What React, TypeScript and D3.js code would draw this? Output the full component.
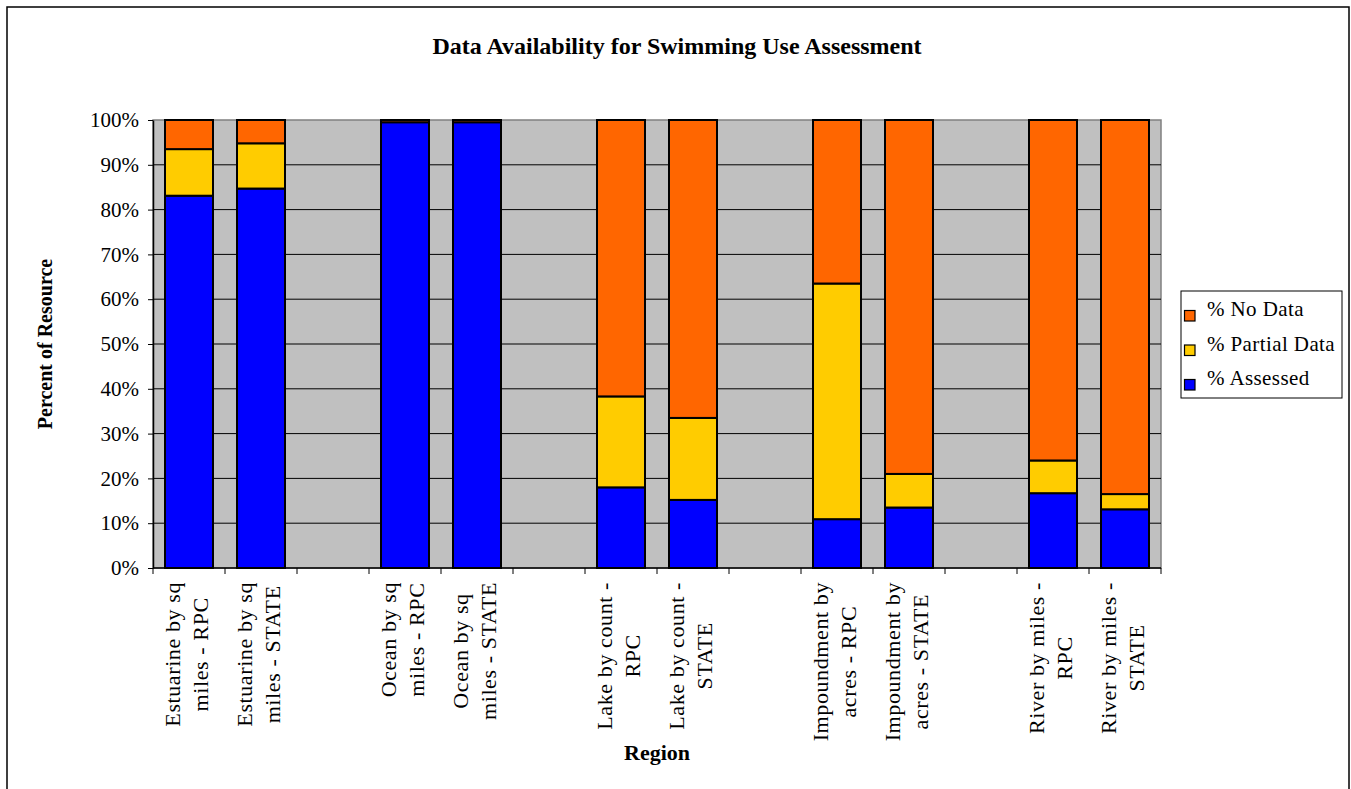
import React, { useEffect, useRef } from 'react';
import * as d3 from 'd3';

const title = 'Data Availability for Swimming Use Assessment';
const yAxisTitle = 'Percent of Resource';
const xAxisTitle = 'Region';

// category labels, "|" separates the two label lines; "" = empty gap slot
const categories = [
  'Estuarine by sq|miles - RPC',
  'Estuarine by sq|miles - STATE',
  '',
  'Ocean by sq|miles - RPC',
  'Ocean by sq|miles - STATE',
  '',
  'Lake by count -|RPC',
  'Lake by count -|STATE',
  '',
  'Impoundment by|acres - RPC',
  'Impoundment by|acres - STATE',
  '',
  'River by miles -|RPC',
  'River by miles -|STATE',
];

const assessed = [83.1, 84.7, 0, 99.5, 99.5, 0, 18.0, 15.2, 0, 10.9, 13.5, 0, 16.7, 13.1];
const partialData = [10.4, 10.1, 0, 0, 0, 0, 20.3, 18.3, 0, 52.6, 7.5, 0, 7.3, 3.4];
const noData = [6.5, 5.2, 0, 0.5, 0.5, 0, 61.7, 66.5, 0, 36.5, 79.0, 0, 76.0, 83.5];

const seriesKeys = ['assessed', 'partial', 'noData'];
const seriesNames = ['% Assessed', '% Partial Data', '% No Data'];
const seriesColors = ['#0000FF', '#FFCC00', '#FF6600'];

const yTicks = [0, 10, 20, 30, 40, 50, 60, 70, 80, 90, 100];

const FONT = '"Liberation Serif", "Times New Roman", Times, serif';

export default function App() {
  const ref = useRef<SVGSVGElement | null>(null);

  useEffect(() => {
    const svg = d3.select(ref.current);
    svg.selectAll('*').remove();

    const L = 153, R = 1161, T = 120, B = 568;

    const keys = categories.map((_, i) => String(i));
    const x = d3.scaleBand<string>().domain(keys).range([L, R]).paddingInner(1 / 3).paddingOuter(1 / 6);
    const y = d3.scaleLinear().domain([0, 100]).range([B, T]);

    // outer chart border
    svg.append('rect').attr('x', 7).attr('y', 7).attr('width', 1342).attr('height', 820)
      .attr('fill', '#fff').attr('stroke', '#000').attr('stroke-width', 1.5);

    // title
    svg.append('text').attr('x', 677).attr('y', 54).attr('text-anchor', 'middle')
      .attr('font-family', FONT).attr('font-weight', 'bold').attr('font-size', 24)
      .text(title);

    // plot background
    svg.append('rect').attr('x', L).attr('y', T).attr('width', R - L).attr('height', B - T)
      .attr('fill', '#C0C0C0').attr('stroke', '#808080').attr('stroke-width', 1.5);

    // gridlines
    svg.append('g').selectAll('line').data(yTicks.filter(t => t > 0 && t < 100)).join('line')
      .attr('x1', L).attr('x2', R).attr('y1', d => y(d)).attr('y2', d => y(d))
      .attr('stroke', '#000').attr('stroke-width', 1);

    // stacked bars
    const rows = categories.map((c, i) => ({
      key: keys[i], blank: c === '',
      assessed: assessed[i], partial: partialData[i], noData: noData[i],
    }));
    const stack = d3.stack<any>().keys(seriesKeys);
    const layers = stack(rows);
    layers.forEach((layer, li) => {
      svg.append('g').selectAll('rect')
        .data(layer.filter(d => !d.data.blank && d[1] - d[0] > 0))
        .join('rect')
        .attr('x', d => x(d.data.key)!)
        .attr('width', x.bandwidth())
        .attr('y', d => y(d[1]))
        .attr('height', d => y(d[0]) - y(d[1]))
        .attr('fill', seriesColors[li])
        .attr('stroke', '#000').attr('stroke-width', 2);
    });

    // y axis
    const yAxis = d3.axisLeft(y).tickValues(yTicks).tickFormat(d => `${d}%`)
      .tickSize(5).tickSizeOuter(0).tickPadding(9);
    const gy = svg.append('g').attr('transform', `translate(${L},0)`).call(yAxis);
    gy.select('.domain').attr('stroke', '#000').attr('stroke-width', 1.5);
    gy.selectAll('.tick line').attr('stroke', '#000');
    gy.selectAll('.tick text').attr('font-family', FONT).attr('font-size', 21).attr('fill', '#000');

    // x axis line + ticks at slot boundaries
    svg.append('line').attr('x1', L).attr('x2', R).attr('y1', B).attr('y2', B)
      .attr('stroke', '#000').attr('stroke-width', 1.5);
    const step = x.step();
    const boundaries = keys.map(k => x(k)! - (step - x.bandwidth()) / 2).concat([R]);
    svg.append('g').selectAll('line').data(boundaries).join('line')
      .attr('x1', d => d).attr('x2', d => d).attr('y1', B).attr('y2', B + 6)
      .attr('stroke', '#000').attr('stroke-width', 1);

    // x labels (rotated, two lines, centered within block anchored at axis)
    categories.forEach((c, i) => {
      if (!c) return;
      const lines = c.split('|');
      const cx = x(keys[i])! + x.bandwidth() / 2;
      const g = svg.append('g').attr('transform', `translate(${cx},582) rotate(-90)`);
      const texts = lines.map((ln, li) =>
        g.append('text').attr('font-family', FONT).attr('font-size', 22)
          .attr('letter-spacing', 0.6)
          .attr('text-anchor', 'middle').attr('y', -9 + li * 28).text(ln));
      const maxW = d3.max(texts, t => (t.node() as SVGTextElement).getComputedTextLength()) || 0;
      texts.forEach(t => t.attr('x', -maxW / 2));
    });

    // axis titles
    svg.append('text').attr('transform', `translate(52,344) rotate(-90)`).attr('text-anchor', 'middle')
      .attr('font-family', FONT).attr('font-weight', 'bold').attr('font-size', 20).text(yAxisTitle);
    svg.append('text').attr('x', 657).attr('y', 760).attr('text-anchor', 'middle')
      .attr('font-family', FONT).attr('font-weight', 'bold').attr('font-size', 22).text(xAxisTitle);

    // legend
    const lg = svg.append('g');
    lg.append('rect').attr('x', 1181).attr('y', 291).attr('width', 161).attr('height', 107)
      .attr('fill', '#fff').attr('stroke', '#000').attr('stroke-width', 1);
    const order = [2, 1, 0];
    order.forEach((si, idx) => {
      lg.append('rect').attr('x', 1184.5).attr('y', 310.5 + idx * 34.5).attr('width', 10.5).attr('height', 10.5)
        .attr('fill', seriesColors[si]).attr('stroke', '#000').attr('stroke-width', 1.2);
      lg.append('text').attr('x', 1207).attr('y', 316 + idx * 34.5)
        .attr('font-family', FONT).attr('font-size', 21).attr('letter-spacing', 0.4)
        .text(seriesNames[si]);
    });
  }, []);

  return (
    <svg ref={ref} width={1351} height={789}
      style={{ position: 'absolute', left: 0, top: 0, background: '#fff' }} />
  );
}
